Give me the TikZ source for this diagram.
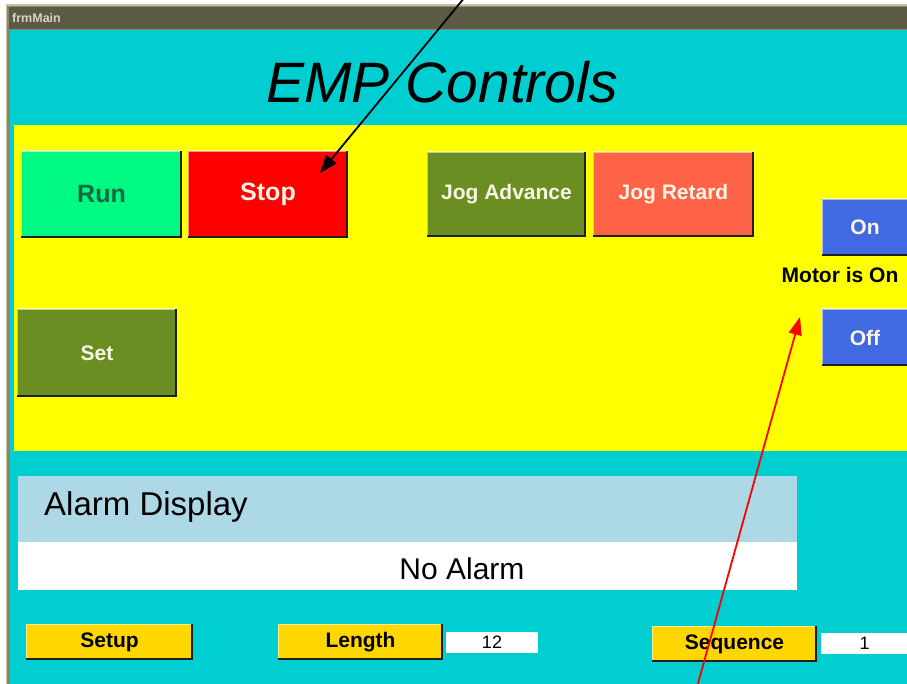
\documentclass[tikz,border=0pt]{standalone}
\usepackage{fontspec}
\setmainfont{Liberation Sans}
\usetikzlibrary{arrows.meta}
\definecolor{frameolive}{HTML}{8A876A}
\definecolor{titlebar}{HTML}{5B5A42}
\definecolor{titletan}{HTML}{C9C1A6}
\definecolor{panelcyan}{HTML}{00CED1}
\definecolor{bandyellow}{HTML}{FFFF00}
\definecolor{rungreen}{HTML}{00F983}
\definecolor{runtext}{HTML}{0E6A3C}
\definecolor{stopred}{HTML}{FF0000}
\definecolor{olivebtn}{HTML}{6B8E23}
\definecolor{tomatobtn}{HTML}{FF6347}
\definecolor{royalbtn}{HTML}{4169E1}
\definecolor{goldbtn}{HTML}{FFD700}
\definecolor{alarmblue}{HTML}{ADD8E6}
\definecolor{ivorytext}{HTML}{FAF6E6}
\tikzset{
  btnbox/.style={anchor=north west, inner sep=0pt, outer sep=0pt, align=center,
    path picture={
      \draw[white, opacity=.55, line width=2pt]
        (path picture bounding box.south west) -- (path picture bounding box.north west)
        -- (path picture bounding box.north east);
      \fill[black!88] ([xshift=-2.2pt]path picture bounding box.north east)
        rectangle (path picture bounding box.south east);
      \fill[black!88] ([yshift=2.2pt]path picture bounding box.south west)
        rectangle (path picture bounding box.south east);
    }},
  bigbtn/.style={btnbox, font=\bfseries\fontsize{25}{30}\selectfont},
  midbtn/.style={btnbox, font=\bfseries\fontsize{21}{25}\selectfont},
  lowbtn/.style={btnbox, fill=goldbtn, text=black, font=\bfseries\fontsize{21}{25}\selectfont},
  valbox/.style={anchor=north west, inner sep=0pt, outer sep=0pt, fill=white,
    font=\fontsize{18}{22}\selectfont},
  arrowline/.style={line width=1.8pt, -{Triangle[length=18pt,width=13pt]}}
}
\begin{document}
\begin{tikzpicture}[x=1pt,y=-1pt]
\useasboundingbox (0,0) rectangle (907,684);
\clip (0,0) rectangle (907,684);
\fill[white] (0,0) rectangle (907,684);
% window frame
\fill[titletan] (6,4) rectangle (910,690);
\fill[frameolive] (7,6) rectangle (910,690);
\fill[titlebar] (9,7) rectangle (910,29);
\node[anchor=west, inner sep=0pt, text=titletan!70!white,
  font=\bfseries\fontsize{12.5}{14}\selectfont] (frm) at (12,18) {frmMain};
\fill[panelcyan] (10,30) rectangle (910,690);
% title
\node[inner sep=0pt, font=\itshape\fontsize{57}{66}\selectfont] (title) at (442,82) {EMP Controls};
% yellow band
\fill[bandyellow] (14,125) rectangle (910,451);
% buttons
\node[bigbtn, fill=rungreen, text=runtext, minimum width=161pt, minimum height=87pt] (run) at (21,151) {Run};
\node[bigbtn, fill=stopred, text=ivorytext, minimum width=160pt, minimum height=87pt] (stop) at (188,151) {Stop};
\node[midbtn, fill=olivebtn, text=ivorytext, minimum width=159pt, minimum height=85pt] (jogadv) at (427,152) {Jog Advance};
\node[midbtn, fill=tomatobtn, text=ivorytext, minimum width=161pt, minimum height=85pt] (jogret) at (593,152) {Jog Retard};
\node[midbtn, fill=royalbtn, text=ivorytext, minimum width=90pt, minimum height=57pt] (on) at (822,199) {\hspace*{-4pt}On};
\node[midbtn, fill=royalbtn, text=ivorytext, minimum width=90pt, minimum height=57pt] (off) at (822,309) {\hspace*{-4pt}Off};
\node[inner sep=0pt, font=\bfseries\fontsize{21}{25}\selectfont] (motor) at (840,275) {Motor is On};
\node[midbtn, fill=olivebtn, text=ivorytext, minimum width=160pt, minimum height=88pt] (set) at (17,309) {Set};
% alarm panel
\node[anchor=north west, inner sep=0pt, outer sep=0pt, fill=alarmblue,
  minimum width=779pt, minimum height=66pt] (alarmhead) at (18,476) {};
\node[anchor=west, inner sep=0pt, font=\fontsize{33}{38}\selectfont] (alarmtitle) at (44,507) {Alarm Display};
\node[anchor=north west, inner sep=0pt, outer sep=0pt, fill=white,
  minimum width=779pt, minimum height=48pt] (alarmbody) at (18,542) {};
\node[inner sep=0pt, font=\fontsize{30}{36}\selectfont] (noalarm) at (462,569) {No Alarm};
% bottom row
\node[lowbtn, minimum width=167pt, minimum height=36pt] (setup) at (26,624) {Setup};
\node[lowbtn, minimum width=165pt, minimum height=36pt] (length) at (278,624) {Length};
\node[valbox, minimum width=92pt, minimum height=21pt] (lenval) at (446,632) {12};
\node[lowbtn, minimum width=165pt, minimum height=36pt] (sequence) at (652,626) {Sequence};
\node[valbox, minimum width=90pt, minimum height=21pt] (seqval) at (821,633) {\hspace*{-3pt}1};
% annotation arrows
\coordinate (blackstart) at (465,-3);
\coordinate (blacktip) at (320,173);
\coordinate (redstart) at (697,687);
\coordinate (redtip) at (800,317);
\draw[arrowline, black] (blackstart) -- (blacktip);
\draw[arrowline, red] (redstart) -- (redtip);
\end{tikzpicture}
\end{document}
